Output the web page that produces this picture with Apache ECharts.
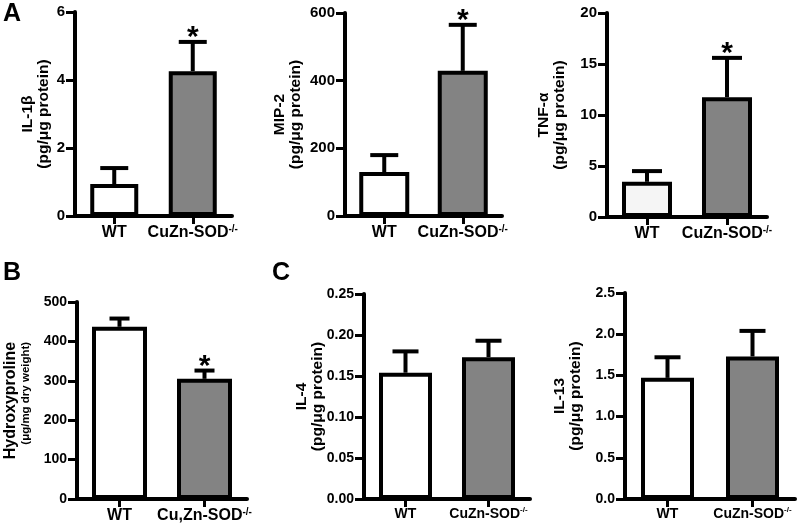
<!DOCTYPE html>
<html>
<head>
<meta charset="utf-8">
<script src="https://cdn.jsdelivr.net/npm/echarts@6/dist/echarts.min.js"></script>
<style>
  html, body { margin: 0; padding: 0; background: #fff; }
  #chart { width: 800px; height: 528px; }
</style>
</head>
<body>
<div id="chart"></div>
<script>
// groups
const groups = ["WT", "CuZn-SOD"];
const groupsB = ["WT", "Cu,Zn-SOD"];

// A: cytokines (mean, SEM)
const il1bMean = [0.94, 4.26];
const il1bErr = [0.47, 0.86];
const mip2Mean = [130, 429];
const mip2Err = [50, 136];
const tnfMean = [3.45, 11.75];
const tnfErr = [1.05, 3.85];

// B: hydroxyproline
const hypMean = [437, 305];
const hypErr = [21, 21];

// C: Th2 cytokines
const il4Mean = [0.154, 0.173];
const il4Err = [0.026, 0.02];
const il13Mean = [1.47, 1.73];
const il13Err = [0.25, 0.31];

// significance marks (*)
const sigA = [0, 1];
const sigB = [0, 1];
const sigC = [0, 0];

const FONT = "Liberation Sans, Arial, sans-serif";
const GRAY = "#838383";

const panels = [
  { cats: groups, mean: il1bMean, err: il1bErr, sig: sigA, max: 6, step: 2, dec: 0,
    name: "{t|IL-1β}\n{t|(pg/μg protein)}", gap: 23, tickFs: 15, catFs: 16,
    grid: { left: 75, top: 12, width: 157, height: 204 }, barW: 48, cap: 14, wtColor: "#fff" },
  { cats: groups, mean: mip2Mean, err: mip2Err, sig: sigA, max: 600, step: 200, dec: 0,
    name: "{t|MIP-2}\n{t|(pg/μg protein)}", gap: 41, tickFs: 15, catFs: 16,
    grid: { left: 345, top: 13, width: 157, height: 203 }, barW: 50, cap: 14, wtColor: "#fff" },
  { cats: groups, mean: tnfMean, err: tnfErr, sig: sigA, max: 20, step: 5, dec: 0,
    name: "{t|TNF-α}\n{t|(pg/μg protein)}", gap: 39, tickFs: 15, catFs: 16,
    grid: { left: 607, top: 13, width: 160, height: 204 }, barW: 50, cap: 15, wtColor: "#f5f5f5" },
  { cats: groupsB, mean: hypMean, err: hypErr, sig: sigB, max: 500, step: 100, dec: 0,
    name: "{h|Hydroxyproline}\n{s|(μg/mg dry weight)}", gap: 45, tickFs: 14, catFs: 16,
    grid: { left: 77, top: 302, width: 170, height: 197 }, barW: 55, cap: 10, wtColor: "#fff" },
  { cats: groups, mean: il4Mean, err: il4Err, sig: sigC, max: 0.25, step: 0.05, dec: 2,
    name: "{t|IL-4}\n{t|(pg/μg protein)}", gap: 38, tickFs: 14, catFs: 14,
    grid: { left: 364, top: 294, width: 166, height: 205 }, barW: 53, cap: 13, wtColor: "#fff" },
  { cats: groups, mean: il13Mean, err: il13Err, sig: sigC, max: 2.5, step: 0.5, dec: 1,
    name: "{t|IL-13}\n{t|(pg/μg protein)}", gap: 41, tickFs: 14, catFs: 14,
    grid: { left: 625, top: 293, width: 170, height: 206 }, barW: 53, cap: 13, wtColor: "#fff" }
];

const chart = echarts.init(document.getElementById("chart"));

const grid = [], xAxis = [], yAxis = [], series = [];

panels.forEach((p, i) => {
  grid.push(Object.assign({ outerBoundsMode: "none", containLabel: false }, p.grid));

  xAxis.push({
    type: "category",
    gridIndex: i,
    data: p.cats,
    axisLine: { show: true, lineStyle: { color: "#000", width: 4 } },
    axisTick: { show: true, alignWithLabel: true, length: 8, lineStyle: { color: "#000", width: 3 } },
    axisLabel: {
      show: true,
      interval: 0,
      hideOverlap: false,
      margin: p.catFs > 14 ? 8 : 7,
      formatter: v => v === "WT" ? "{a|WT}" : "{a|" + v + "}{s|-/-}",
      rich: {
        a: { fontFamily: FONT, fontWeight: "bold", fontSize: p.catFs, color: "#000", lineHeight: p.catFs + 2 },
        s: { fontFamily: FONT, fontWeight: "bold", fontSize: p.catFs - 6, color: "#000", verticalAlign: "top", lineHeight: p.catFs + 2 }
      }
    }
  });

  yAxis.push({
    type: "value",
    gridIndex: i,
    min: 0,
    max: p.max,
    interval: p.step,
    splitLine: { show: false },
    axisLine: { show: true, onZero: false, lineStyle: { color: "#000", width: 4 } },
    axisTick: { show: true, length: 9, lineStyle: { color: "#000", width: 3 } },
    axisLabel: {
      margin: 10,
      color: "#000",
      fontFamily: FONT,
      fontWeight: "bold",
      fontSize: p.tickFs,
      formatter: v => v.toFixed(p.dec)
    },
    name: p.name,
    nameLocation: "middle",
    nameRotate: 90,
    nameGap: p.gap,
    nameMoveOverlap: false,
    nameTextStyle: {
      fontFamily: FONT,
      fontWeight: "bold",
      fontSize: 15,
      lineHeight: 16,
      color: "#000",
      rich: {
        t: { fontFamily: FONT, fontWeight: "bold", fontSize: 15.5, color: "#000", lineHeight: 16 },
        h: { fontFamily: FONT, fontWeight: "bold", fontSize: 16, color: "#000", lineHeight: 16 },
        s: { fontFamily: FONT, fontSize: 11.5, color: "#000", lineHeight: 13, align: "right" }
      }
    }
  });

  // bars
  series.push({
    type: "bar",
    xAxisIndex: i,
    yAxisIndex: i,
    barWidth: p.barW,
    silent: true,
    data: p.mean.map((v, k) => ({
      value: v,
      itemStyle: { color: k === 0 ? p.wtColor : GRAY, borderColor: "#000", borderWidth: 4 }
    })),
    z: 2
  });

  // error bars + significance
  series.push({
    type: "custom",
    xAxisIndex: i,
    yAxisIndex: i,
    z: 3,
    silent: true,
    data: p.mean.map((v, k) => [k, v, p.err[k], p.sig[k]]),
    encode: { x: 0, y: 1 },
    renderItem: (params, api) => {
      const k = api.value(0);
      const m = api.value(1);
      const e = api.value(2);
      const base = api.coord([k, m]);
      const top = api.coord([k, m + e]);
      const children = [
        { type: "line", shape: { x1: base[0], y1: base[1], x2: top[0], y2: top[1] },
          style: { stroke: "#000", lineWidth: 4 } },
        { type: "line", shape: { x1: top[0] - p.cap, y1: top[1], x2: top[0] + p.cap, y2: top[1] },
          style: { stroke: "#000", lineWidth: 4 } }
      ];
      if (api.value(3)) {
        children.push({
          type: "text",
          style: { text: "*", x: top[0], y: top[1] - 4, fontFamily: FONT, fontWeight: "bold",
            fontSize: 30, fill: "#000", align: "center", verticalAlign: "middle" }
        });
      }
      return { type: "group", children };
    }
  });
});

chart.setOption({
  animation: false,
  backgroundColor: "#fff",
  grid,
  xAxis,
  yAxis,
  series,
  graphic: [
    { type: "text", left: 3, top: 2, style: { text: "A", fontFamily: FONT, fontWeight: "bold", fontSize: 25, fill: "#000" } },
    { type: "text", left: 3, top: 261, style: { text: "B", fontFamily: FONT, fontWeight: "bold", fontSize: 25, fill: "#000" } },
    { type: "text", left: 272, top: 261, style: { text: "C", fontFamily: FONT, fontWeight: "bold", fontSize: 25, fill: "#000" } }
  ]
});
</script>
</body>
</html>
